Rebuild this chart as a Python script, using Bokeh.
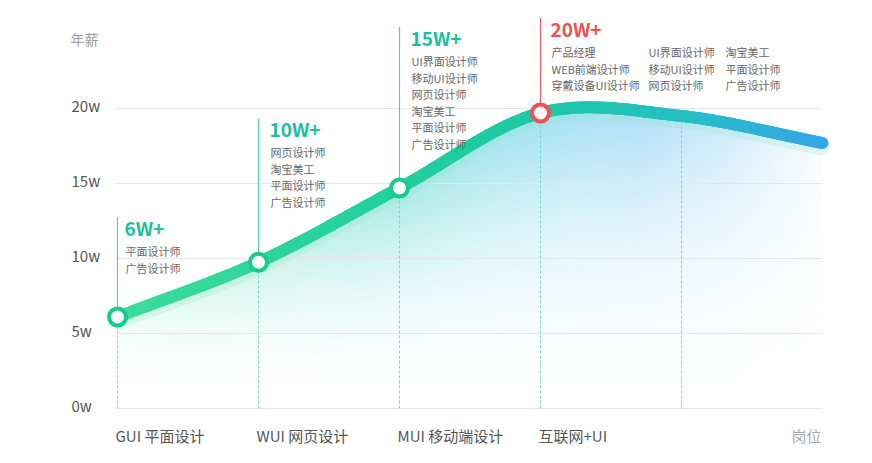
import numpy as np
from bokeh.plotting import figure
from bokeh.models import ColumnDataSource, Range1d
from bokeh.core.properties import value
from bokeh.embed import file_html
from bokeh.resources import INLINE

# ---------------- data ----------------
categories = ["GUI 平面设计", "WUI 网页设计", "MUI 移动端设计", "互联网+UI"]
curve_x = [0, 1, 2, 3, 4, 5]
curve_salary = [6.1, 9.75, 14.7, 19.7, 19.5, 17.7]     # 年薪 (w)
level_labels = ["6W+", "10W+", "15W+", "20W+"]
level_jobs = [
    ["平面设计师", "广告设计师"],
    ["网页设计师", "淘宝美工", "平面设计师", "广告设计师"],
    ["UI界面设计师", "移动UI设计师", "网页设计师", "淘宝美工", "平面设计师", "广告设计师"],
    ["产品经理", "WEB前端设计师", "穿戴设备UI设计师",
     "UI界面设计师", "移动UI设计师", "网页设计师",
     "淘宝美工", "平面设计师", "广告设计师"],
]
y_ticks = [0, 5, 10, 15, 20]
y_tick_labels = ["0w", "5w", "10w", "15w", "20w"]
y_title = "年薪"
x_title = "岗位"

# ---------------- layout / style ----------------
W, H = 856, 447
PX_X, PX_Y = 141.0, 15.0          # pixels per category / per 1w
X0, Y0 = 117.0, 408.0             # screen position of (0, 0)
FONT = value("Noto Sans CJK SC")
GREEN, RED = "#1cbf9d", "#ee5050"
level_colors = [GREEN, GREEN, GREEN, RED]
stem_colors = ["#52d0b0", "#52d0b0", "#52d0b0", "#ec6060"]
marker_colors = ["#17cb8c", "#17cb8c", "#17cb8c", "#ef5252"]
stem_len_px = [100, 144, 161, 95]
text_dx = [8, 12, 12, 11]
col_dx = [0, 97, 174]

p = figure(width=W, height=H, output_backend="svg", toolbar_location=None,
           x_axis_type=None, y_axis_type=None, min_border=0,
           x_range=Range1d(-X0 / PX_X, (W - X0) / PX_X),
           y_range=Range1d(-(H - Y0) / PX_Y, Y0 / PX_Y))
p.outline_line_color = None
p.background_fill_color = "white"

xs = np.array(curve_x, float)
ys = np.array(curve_salary, float)
m = np.empty_like(ys)
m[1:-1] = (ys[2:] - ys[:-2]) / 2.0
m[0] = ys[1] - ys[0]
m[-1] = ys[-1] - ys[-2]


def smooth(t):
    t = np.asarray(t, float)
    i = np.clip(np.floor(t).astype(int), 0, len(xs) - 2)
    u = t - xs[i]
    h00 = 2 * u**3 - 3 * u**2 + 1
    h10 = u**3 - 2 * u**2 + u
    h01 = -2 * u**3 + 3 * u**2
    h11 = u**3 - u**2
    return h00 * ys[i] + h10 * m[i] + h01 * ys[i + 1] + h11 * m[i + 1]


def interp_rgb(t, stops_x, stops_c):
    c = np.array(stops_c, float)
    return np.stack([np.interp(t, stops_x, c[:, k]) for k in range(3)], axis=-1)


# ---------------- gradient area ----------------
nx, ny = 706, 306
gx = np.linspace(0, 5, nx)
y_top = 20.4
gy = np.linspace(0, y_top, ny)
hc = smooth(gx)
tt = gy[:, None] / hc[None, :]
inside = tt <= 1.0
A = np.interp(gx, [0, 0.5, 1, 1.5, 2, 3, 3.7, 4.3, 4.7, 5],
              [0.1, 0.22, 0.3, 0.4, 0.5, 0.6, 0.58, 0.4, 0.2, 0.06])
fill_rgb = interp_rgb(gx, [0, 1, 2, 2.8, 3.6, 5],
                      [(90, 222, 172), (90, 220, 182), (80, 212, 205),
                       (90, 205, 230), (110, 200, 242), (140, 205, 245)])
alpha = np.where(inside, A[None, :] * np.clip(tt, 0, 1) ** 1.9, 0.0)
img = np.zeros((ny, nx), dtype=np.uint32)
view = img.view(dtype=np.uint8).reshape((ny, nx, 4))
view[..., 0] = fill_rgb[None, :, 0].astype(np.uint8)
view[..., 1] = fill_rgb[None, :, 1].astype(np.uint8)
view[..., 2] = fill_rgb[None, :, 2].astype(np.uint8)
view[..., 3] = (alpha * 255).astype(np.uint8)
p.image_rgba(image=[img], x=0, y=0, dw=5, dh=y_top)

# ---------------- grid ----------------
p.segment(x0=[-2 / PX_X] * len(y_ticks), x1=[5] * len(y_ticks), y0=y_ticks, y1=y_ticks,
          line_color="#e6e6e6", line_width=1)

# dashed drops
drop_x = curve_x[:5]
p.segment(x0=drop_x, x1=drop_x, y0=[0] * 5, y1=list(smooth(drop_x)),
          line_color="#7fd6c6", line_width=1, line_dash="3 2")

# stems
cat_x = list(range(len(categories)))
cat_val = curve_salary[:len(categories)]
stem_top = [v + s / PX_Y for v, s in zip(cat_val, stem_len_px)]
p.segment(x0=cat_x, x1=cat_x, y0=cat_val, y1=stem_top, line_color=stem_colors, line_width=1.2)

# ---------------- line ----------------
ts = np.linspace(0, 5, 301)
yc = smooth(ts)
p.line(ts, yc - 0.3, line_width=16, line_color="#8fe6cc", line_alpha=0.25, line_cap="round")
mid = (ts[:-1] + ts[1:]) / 2
lc = interp_rgb(mid, [0, 1, 2, 3, 4, 5],
                [(61, 220, 156), (47, 214, 156), (34, 207, 158), (30, 200, 166),
                 (36, 192, 196), (53, 166, 230)])
seg_colors = ["#%02x%02x%02x" % tuple(int(round(v)) for v in c) for c in lc]
p.segment(x0=ts[:-1], x1=ts[1:], y0=yc[:-1], y1=yc[1:], line_color=seg_colors,
          line_width=12, line_cap="round")

# markers
p.scatter(x=cat_x, y=cat_val, size=17, fill_color="white", line_color=marker_colors, line_width=4)

# ---------------- texts ----------------
p.text(x=[0] * len(y_ticks), y=y_ticks, text=y_tick_labels, x_offset=-46, y_offset=-3,
       text_font=FONT, text_font_size="15px", text_color="#555555",
       text_align="left", text_baseline="middle")
p.text(x=[0], y=[20], text=[y_title], x_offset=-47, y_offset=-70,
       text_font=FONT, text_font_size="14px", text_color="#9a9a9a",
       text_align="left", text_baseline="middle")
p.text(x=cat_x, y=[0] * len(cat_x), text=categories, x_offset=-2, y_offset=27,
       text_font=FONT, text_font_size="15px", text_color="#555555",
       text_align="left", text_baseline="middle")
p.text(x=[5], y=[0], text=[x_title], x_offset=-1, y_offset=27,
       text_font=FONT, text_font_size="15px", text_color="#a8a8a8",
       text_align="right", text_baseline="middle")

# level headers
p.text(x=cat_x, y=stem_top, text=level_labels, x_offset=[d - 1 for d in text_dx], y_offset=10,
       text_font=FONT, text_font_size="19px", text_font_style="bold", text_color=level_colors,
       text_align="left", text_baseline="middle")

# job lists
jx, jy, jt, jdx, jdy = [], [], [], [], []
for i, jobs in enumerate(level_jobs):
    for j, job in enumerate(jobs):
        col, row = (j // 3, j % 3) if i == 3 else (0, j)
        jx.append(i)
        jy.append(stem_top[i])
        jt.append(job)
        jdx.append(text_dx[i] + col_dx[col])
        jdy.append(34 + 16.5 * row)
src = ColumnDataSource(dict(x=jx, y=jy, text=jt, dx=jdx, dy=jdy))
p.text(x="x", y="y", text="text", x_offset="dx", y_offset="dy", source=src,
       text_font=FONT, text_font_size="11px", text_color="#666666",
       text_align="left", text_baseline="middle")

open("out.html", "w").write(file_html(p, INLINE))
